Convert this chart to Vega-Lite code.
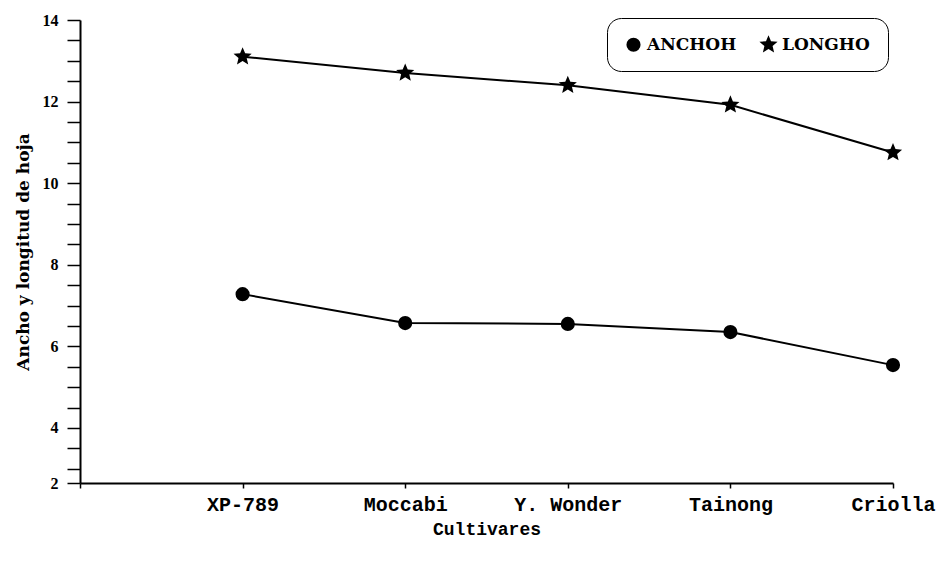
{
  "$schema": "https://vega.github.io/schema/vega-lite/v6.json",
  "width": 813,
  "height": 463,
  "autosize": "none",
  "padding": {"left": 80, "top": 20, "right": 43, "bottom": 83},
  "background": "white",
  "config": {"view": {"stroke": null}},
  "data": {
    "values": [
      {"cultivar": "XP-789", "serie": "ANCHOH", "valor": 7.28},
      {"cultivar": "Moccabi", "serie": "ANCHOH", "valor": 6.57},
      {"cultivar": "Y. Wonder", "serie": "ANCHOH", "valor": 6.55},
      {"cultivar": "Tainong", "serie": "ANCHOH", "valor": 6.35},
      {"cultivar": "Criolla", "serie": "ANCHOH", "valor": 5.54},
      {"cultivar": "XP-789", "serie": "LONGHO", "valor": 13.1},
      {"cultivar": "Moccabi", "serie": "LONGHO", "valor": 12.7},
      {"cultivar": "Y. Wonder", "serie": "LONGHO", "valor": 12.4},
      {"cultivar": "Tainong", "serie": "LONGHO", "valor": 11.92},
      {"cultivar": "Criolla", "serie": "LONGHO", "valor": 10.75}
    ]
  },
  "encoding": {
    "x": {
      "field": "cultivar", "type": "nominal",
      "scale": {"type": "point", "domain": ["", "XP-789", "Moccabi", "Y. Wonder", "Tainong", "Criolla"], "padding": 0},
      "axis": {
        "title": "Cultivares", "titleFont": "Liberation Mono", "titleFontWeight": "bold", "titleFontSize": 18, "titleColor": "black", "titlePadding": 6,
        "labelFont": "Liberation Mono", "labelFontWeight": "bold", "labelFontSize": 20, "labelColor": "black", "labelAngle": 0, "labelPadding": 6,
        "tickSize": 5, "tickColor": "black", "tickWidth": 1.5,
        "domainColor": "black", "domainWidth": 2, "grid": false
      }
    },
    "y": {
      "field": "valor", "type": "quantitative",
      "scale": {"domain": [2.65, 14], "nice": false, "zero": false},
      "axis": {
        "values": [2.65, 3, 3.5, 4, 4.5, 5, 5.5, 6, 6.5, 7, 7.5, 8, 8.5, 9, 9.5, 10, 10.5, 11, 11.5, 12, 12.5, 13, 13.5, 14],
        "labelExpr": "datum.value < 2.9 ? '2' : (datum.value % 2 === 0 ? format(datum.value, 'd') : '')",
        "labelOverlap": false,
        "title": "Ancho y longitud de hoja", "titleFont": "DejaVu Serif", "titleFontWeight": "bold", "titleFontSize": 17, "titleColor": "black", "titlePadding": 10,
        "labelFont": "Liberation Serif", "labelFontWeight": "bold", "labelFontSize": 16, "labelColor": "black", "labelPadding": 9,
        "tickSize": 13, "tickColor": "black", "tickWidth": 1.5,
        "domainColor": "black", "domainWidth": 2, "grid": false,
        "encode": {"ticks": {"update": {"x2": {"signal": "(datum.value < 2.9 || datum.value % 2 === 0) ? -13 : -6"}}}}
      }
    }
  },
  "layer": [
    {
      "mark": {"type": "line", "color": "black", "strokeWidth": 2},
      "encoding": {
        "detail": {"field": "serie"}
      }
    },
    {
      "mark": {"type": "point", "filled": true, "opacity": 1, "size": 200},
      "encoding": {
        "shape": {
          "field": "serie", "type": "nominal",
          "scale": {"domain": ["ANCHOH", "LONGHO"], "range": ["circle", "M0,-1.35L0.358,-0.491L1.284,-0.417L0.578,0.188L0.794,1.092L0,0.608L-0.794,1.092L-0.578,0.188L-1.284,-0.417L-0.358,-0.491Z"]},
          "legend": {
            "orient": "none", "legendX": 527, "legendY": -2, "direction": "horizontal", "title": null,
            "strokeColor": "black", "cornerRadius": 14, "padding": 18, "fillColor": "white",
            "labelFont": "DejaVu Serif", "labelFontWeight": "bold", "labelFontSize": 17, "labelColor": "black",
            "symbolSize": 200, "symbolFillColor": "black", "symbolStrokeWidth": 0, "columnPadding": 22, "labelOffset": 5,
            "encode": {"legend": {"update": {"strokeWidth": {"value": 1.5}}}}
          }
        },
        "color": {"value": "black"}
      }
    }
  ]
}
